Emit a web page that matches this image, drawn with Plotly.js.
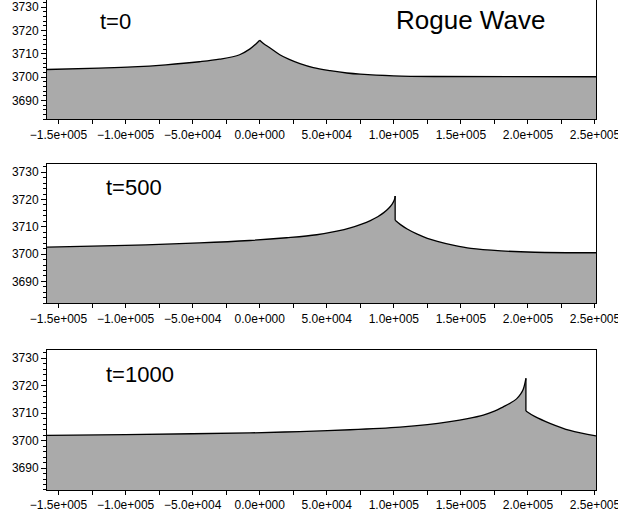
<!DOCTYPE html>
<html>
<head>
<meta charset="utf-8">
<script src="https://cdn.plot.ly/plotly-3.0.1.min.js"></script>
<style>html,body{margin:0;padding:0;background:#fff;}#chart{width:618px;height:513px;}
#chart path.js-fill{shape-rendering:crispEdges;}</style>
</head>
<body>
<div id="chart"></div>
<script>
// t=0 profile (rising side up to the cusp, falling side after it)
const x_t0_rise = [-158600, -120000, -95000, -70000, -45000, -30000, -15000, -7500, -3000, 0];
const y_t0_rise = [3703.3, 3703.9, 3704.4, 3705.3, 3706.6, 3707.7, 3709.6, 3712.0, 3714.1, 3715.8];
const x_t0_fall = [0, 3000, 7500, 15000, 22000, 30000, 40000, 52500, 65000, 75000, 100000, 130000, 250750];
const y_t0_fall = [3715.8, 3714.3, 3712.6, 3709.6, 3707.6, 3705.8, 3704.1, 3702.8, 3701.8, 3701.3, 3700.6, 3700.3, 3700.2];
// t=500 profile
const x_t500_rise = [-158600, -100000, -45000, -7500, 20000, 42500, 57500, 67500, 76000, 82500, 88000, 92500, 96000, 98750, 100500, 101000];
const y_t500_rise = [3702.6, 3703.2, 3704.1, 3705.0, 3706.0, 3707.1, 3708.4, 3709.6, 3711.0, 3712.3, 3713.7, 3715.2, 3716.7, 3718.3, 3720.0, 3721.3];
const x_t500_fall = [101000, 105000, 110000, 117500, 125000, 132500, 145000, 157500, 180000, 205000, 250750];
const y_t500_fall = [3712.4, 3710.8, 3709.2, 3707.3, 3705.8, 3704.7, 3703.2, 3702.1, 3701.2, 3700.7, 3700.5];
// t=1000 profile
const x_t1000_rise = [-158600, -100000, -50000, -7500, 30000, 67200, 104500, 125000, 141800, 155000, 166700, 175000, 181600, 187000, 191500, 194500, 196500, 198500];
const y_t1000_rise = [3701.9, 3702.2, 3702.5, 3702.8, 3703.3, 3703.95, 3704.9, 3705.8, 3706.9, 3708.0, 3709.3, 3710.7, 3712.3, 3713.7, 3715.2, 3716.9, 3718.7, 3722.7];
const x_t1000_fall = [198500, 205000, 216400, 231300, 250750];
const y_t1000_fall = [3710.8, 3708.8, 3706.3, 3703.7, 3701.7];

const xTickVals = [-150000, -100000, -50000, 0, 50000, 100000, 150000, 200000, 250000];
const xTickText = ['\u22121.5e+005', '\u22121.0e+005', '\u22125.0e+004', '0.0e+000', '5.0e+004', '1.0e+005', '1.5e+005', '2.0e+005', '2.5e+005'];
const yTickVals = [3690, 3700, 3710, 3720, 3730];
const panelLabels = ['t=0', 't=500', 't=1000'];
const chartTitle = 'Rogue Wave';

const FONT = '"Liberation Sans", Arial, sans-serif';
const fillGray = '#aaaaaa';

function seg(x, y, xa, ya) {
  return {x: x, y: y, xaxis: xa, yaxis: ya, type: 'scatter', mode: 'lines',
    line: {color: '#000', width: 1.3, shape: 'spline', smoothing: 1}, fill: 'tozeroy', fillcolor: fillGray,
    hoverinfo: 'skip', showlegend: false};
}
function drop(xTop, yTop, xBot, yBot, xa, ya) {
  return {x: [xTop, xBot], y: [yTop, yBot], xaxis: xa, yaxis: ya, type: 'scatter', mode: 'lines',
    line: {color: '#000', width: 1.3}, hoverinfo: 'skip', showlegend: false};
}

function xaxisDef(anchor) {
  return {range: [-158600, 250750], anchor: anchor, showgrid: false, zeroline: false,
    showline: true, mirror: true, linecolor: '#000', linewidth: 1,
    ticks: 'outside', ticklen: 4, tickcolor: '#000', tickwidth: 1,
    tickvals: xTickVals, ticktext: xTickText, ticklabeloverflow: 'allow',
    tickfont: {family: FONT, size: 12, color: '#000'},
    minor: {dtick: 25000, tick0: 0, ticks: 'outside', ticklen: 4, tickcolor: '#000', showgrid: false}};
}
function yaxisDef(anchor, domain) {
  return {range: [3682, 3733], anchor: anchor, domain: domain, showgrid: false, zeroline: false,
    showline: true, mirror: true, linecolor: '#000', linewidth: 1,
    ticks: 'outside', ticklen: 5, tickcolor: '#000', tickwidth: 1,
    tickvals: yTickVals, ticktext: yTickVals.map(String),
    tickfont: {family: FONT, size: 12, color: '#000'},
    minor: {dtick: 2, tick0: 3680, ticks: 'outside', ticklen: 3, tickcolor: '#000', showgrid: false}};
}

const data = [
  seg(x_t0_rise, y_t0_rise, 'x', 'y'),
  seg(x_t0_fall, y_t0_fall, 'x', 'y'),
  seg(x_t500_rise, y_t500_rise, 'x2', 'y2'),
  seg(x_t500_fall, y_t500_fall, 'x2', 'y2'),
  drop(x_t500_rise[x_t500_rise.length - 1], y_t500_rise[y_t500_rise.length - 1], x_t500_fall[0], y_t500_fall[0], 'x2', 'y2'),
  seg(x_t1000_rise, y_t1000_rise, 'x3', 'y3'),
  seg(x_t1000_fall, y_t1000_fall, 'x3', 'y3'),
  drop(x_t1000_rise[x_t1000_rise.length - 1], y_t1000_rise[y_t1000_rise.length - 1], x_t1000_fall[0], y_t1000_fall[0], 'x3', 'y3')
];

const layout = {
  width: 618, height: 513,
  margin: {l: 47, r: 22, t: 0, b: 23},
  paper_bgcolor: '#fff', plot_bgcolor: '#fff',
  showlegend: false,
  xaxis: xaxisDef('y'),
  yaxis: yaxisDef('x', [0.7565, 1]),
  xaxis2: xaxisDef('y2'),
  yaxis2: yaxisDef('x2', [0.381, 0.6653]),
  xaxis3: xaxisDef('y3'),
  yaxis3: yaxisDef('x3', [0, 0.2857]),
  annotations: [
    {text: panelLabels[0], xref: 'paper', yref: 'paper', x: 0.092, y: 0.957, xanchor: 'left', yanchor: 'middle', showarrow: false, font: {family: FONT, size: 22, color: '#000'}},
    {text: chartTitle, xref: 'paper', yref: 'paper', x: 0.772, y: 0.959, xanchor: 'center', yanchor: 'middle', showarrow: false, font: {family: FONT, size: 26, color: '#000'}},
    {text: panelLabels[1], xref: 'paper', yref: 'paper', x: 0.103, y: 0.618, xanchor: 'left', yanchor: 'middle', showarrow: false, font: {family: FONT, size: 22, color: '#000'}},
    {text: panelLabels[2], xref: 'paper', yref: 'paper', x: 0.103, y: 0.2353, xanchor: 'left', yanchor: 'middle', showarrow: false, font: {family: FONT, size: 22, color: '#000'}}
  ]
};

Plotly.newPlot('chart', data, layout, {displayModeBar: false, staticPlot: true}).then(function (gd) {
  gd.querySelectorAll('path.js-fill').forEach(function (p) { p.style.shapeRendering = 'crispEdges'; });
});
</script>
</body>
</html>
